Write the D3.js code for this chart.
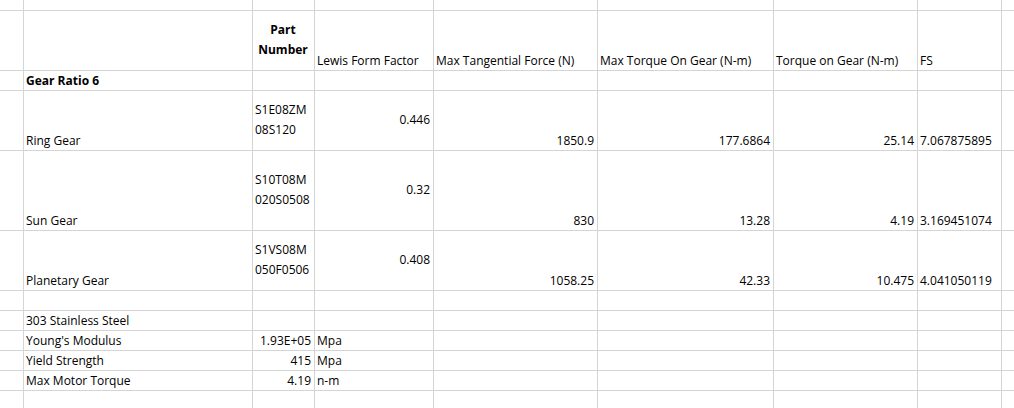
<!DOCTYPE html>
<html><head><meta charset="utf-8">
<script src="https://cdn.jsdelivr.net/npm/d3@7/dist/d3.min.js"></script>
<style>body{margin:0;background:#fff}text{font-family:"Open Sans",sans-serif;font-size:12px;fill:#000}</style>
</head><body><svg id="s" width="1014" height="408"></svg>
<script>
const headers = ["", "Part|Number", "Lewis Form Factor", "Max Tangential Force (N)", "Max Torque On Gear (N-m)", "Torque on Gear (N-m)", "FS"];
const gears = ["Ring Gear", "Sun Gear", "Planetary Gear"];
const partNumbers = ["S1E08ZM|08S120", "S10T08M|020S0508", "S1VS08M|050F0506"];
const lewis = ["0.446", "0.32", "0.408"];
const maxForce = ["1850.9", "830", "1058.25"];
const maxTorque = ["177.6864", "13.28", "42.33"];
const torque = ["25.14", "4.19", "10.475"];
const fs = ["7.067875895", "3.169451074", "4.041050119"];
const matLabels = ["303 Stainless Steel", "Young's Modulus", "Yield Strength", "Max Motor Torque"];
const matValues = ["", "1.93E+05", "415", "4.19"];
const matUnits = ["", "Mpa", "Mpa", "n-m"];

const colEdges = [0, 23, 252, 314, 433, 597, 773, 917, 1001, 1014];
const rowEdges = [0, 10, 70, 90, 150, 230, 290, 310, 330, 350, 370, 390, 408];
const svg = d3.select("#s");
const x = i => colEdges[i], y = i => rowEdges[i];
// grid
svg.selectAll("line.v").data(colEdges.slice(1,-1)).join("line").attr("x1",d=>d+0.5).attr("x2",d=>d+0.5).attr("y1",0).attr("y2",408).attr("stroke","#d4d4d4");
svg.selectAll("line.h").data(rowEdges.slice(1,-1)).join("line").attr("y1",d=>d+0.5).attr("y2",d=>d+0.5).attr("x1",0).attr("x2",1014).attr("stroke","#d4d4d4");

function cell(col,row,txt,opt={}){
  const lines = txt.split("|");
  const lh = 20;
  const align = opt.align||"left", valign = opt.valign||"bottom";
  let tx = align==="right" ? x(col+1)-3 : align==="center" ? (x(col)+x(col+1))/2 : x(col)+3;
  let n = lines.length, top;
  if (valign==="bottom") top = y(row+1)-5-(n-1)*lh;
  else top = (y(row)+y(row+1))/2 + 4 - (n-1)*lh/2;
  lines.forEach((l,i)=>svg.append("text").attr("x",tx).attr("y",top+i*lh)
    .attr("text-anchor",align==="right"?"end":align==="center"?"middle":"start")
    .attr("font-weight",opt.bold?"bold":null).text(l));
}
// headers
headers.forEach((h,i)=>{ if(!h) return;
  if(i===1) cell(2,1,h,{bold:true,align:"center",valign:"top",dy:0});
  else cell(i+1,1,h);
});
cell(1,2,"Gear Ratio 6",{bold:true});
gears.forEach((g,r)=>{
  const row = 3+r;
  cell(1,row,g);
  cell(2,row,partNumbers[r],{valign:"middle"});
  cell(3,row,lewis[r],{align:"right",valign:"middle"});
  cell(4,row,maxForce[r],{align:"right"});
  cell(5,row,maxTorque[r],{align:"right"});
  cell(6,row,torque[r],{align:"right"});
  cell(7,row,fs[r]);
});
matLabels.forEach((m,i)=>{
  cell(1,7+i,m);
  if(matValues[i]) cell(2,7+i,matValues[i],{align:"right"});
  if(matUnits[i]) cell(3,7+i,matUnits[i]);
});
</script></body></html>
